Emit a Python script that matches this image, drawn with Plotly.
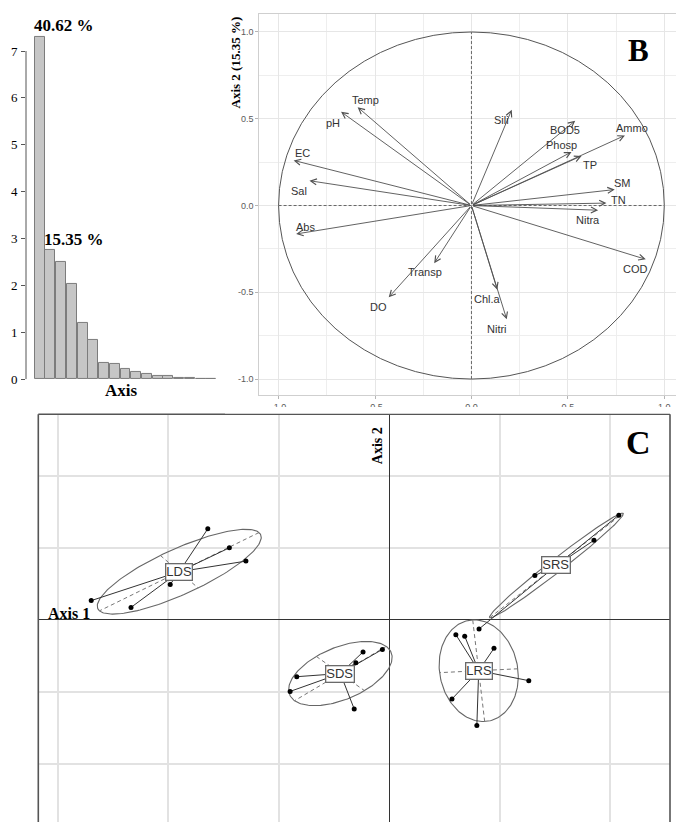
import numpy as np
import plotly.graph_objects as go

# ---------------- Panel A : eigenvalues (scree plot) ----------------
axis_index = list(range(1, 18))
eigenvalues = [7.31, 2.76, 2.51, 2.03, 1.21, 0.83, 0.34, 0.33, 0.225, 0.15,
               0.11, 0.078, 0.063, 0.03, 0.02, 0.015, 0.006]
inertia_labels = ["40.62 %", "15.35 %"]
scree_ticks = [0, 1, 2, 3, 4, 5, 6, 7]

# ---------------- Panel B : correlation circle ----------------
var_names = ["Temp", "pH", "EC", "Sal", "Abs", "Transp", "DO", "Chl.a", "Nitri",
             "Sili", "BOD5", "Phosp", "TP", "Ammo", "SM", "TN", "Nitra", "COD"]
var_axis1 = [-0.590, -0.676, -0.922, -0.840, -0.909, -0.193, -0.429, 0.134, 0.183,
             0.209, 0.538, 0.519, 0.571, 0.796, 0.743, 0.700, 0.657, 0.904]
var_axis2 = [0.567, 0.540, 0.260, 0.143, -0.164, -0.332, -0.529, -0.485, -0.656,
             0.552, 0.488, 0.309, 0.286, 0.404, 0.092, 0.014, -0.027, -0.310]
circle_ticks = [-1.0, -0.5, 0.0, 0.5, 1.0]
circle_ticktext = ["-1.0", "-0.5", "0.0", "0.5", "1.0"]

# ---------------- Panel C : site scores by group ----------------
group_names = ["LDS", "SDS", "LRS", "SRS"]
lds_axis1 = [-3.28, -2.89, -2.59, -3.96, -5.39, -4.67]
lds_axis2 = [2.54, 2.01, 1.64, 0.99, 0.54, 0.35]
sds_axis1 = [-1.67, -1.79, -0.63, -0.60, -0.47, -0.12]
sds_axis2 = [-1.58, -1.99, -2.48, -1.19, -0.89, -0.82]
lrs_axis1 = [1.21, 1.37, 1.90, 2.53, 1.14, 1.59]
lrs_axis2 = [-0.41, -0.45, -0.79, -1.69, -2.20, -2.94]
srs_axis1 = [4.16, 3.71, 2.64, 1.63, 3.20, 2.84]
srs_axis2 = [2.92, 2.22, 1.24, -0.25, 1.50, 1.48]

# ---------------- styling / layout helpers ----------------
# The page body has an 8px margin, so the figure is made 8px smaller and
# every layout position (given in window pixels) is shifted by 8px.
OFF = 8
W, H = 684 - OFF, 830 - OFF
SERIF = "Liberation Serif, Times New Roman, serif"
SANS = "Liberation Sans, Arial, sans-serif"

# label offsets (pixels) for the variable names in panel B
label_dx = [8, -8, 9, -10, 9, -9, -10, -10, -10, -10, -10, -10, 8, 7, 8, 12, -10, -10]
label_dy = [7, -11, 7, -10, 7, -9, -10, -9, -10, -10, -9, 7, -9, 7, 7, 3, -10, -10]


def fx(px):
    return (px - OFF) / W


def fy(py):
    return 1 - (py - OFF) / H


fig = go.Figure()

# ---- Panel A ----
fig.add_trace(go.Bar(
    x=axis_index, y=eigenvalues, width=0.93,
    marker=dict(color="#c6c6c6", line=dict(color="#7c7c7c", width=1)),
    xaxis="x", yaxis="y", hoverinfo="skip"))

# ---- Panel C ----
group_x = [lds_axis1, sds_axis1, lrs_axis1, srs_axis1]
group_y = [lds_axis2, sds_axis2, lrs_axis2, srs_axis2]

annotations = []
centers = []
for gx, gy in zip(group_x, group_y):
    x = np.asarray(gx, float)
    y = np.asarray(gy, float)
    cx, cy = x.mean(), y.mean()
    centers.append((cx, cy))
    cov = np.cov(np.vstack([x, y]), bias=True)
    vals, vecs = np.linalg.eigh(cov)
    a = 1.5 * np.sqrt(max(vals[1], 0))
    b = 1.5 * np.sqrt(max(vals[0], 0))
    v1 = vecs[:, 1]
    v2 = vecs[:, 0]
    t = np.linspace(0, 2 * np.pi, 181)
    ex = cx + a * np.cos(t) * v1[0] + b * np.sin(t) * v2[0]
    ey = cy + a * np.cos(t) * v1[1] + b * np.sin(t) * v2[1]
    fig.add_trace(go.Scatter(x=ex, y=ey, mode="lines",
                             line=dict(color="#666666", width=1.1),
                             xaxis="x3", yaxis="y3", hoverinfo="skip"))
    axx = [cx - a * v1[0], cx + a * v1[0], None, cx - b * v2[0], cx + b * v2[0]]
    axy = [cy - a * v1[1], cy + a * v1[1], None, cy - b * v2[1], cy + b * v2[1]]
    fig.add_trace(go.Scatter(x=axx, y=axy, mode="lines",
                             line=dict(color="#777777", width=1, dash="4px,3px"),
                             xaxis="x3", yaxis="y3", hoverinfo="skip"))
    sx, sy = [], []
    for xi, yi in zip(x, y):
        sx += [cx, xi, None]
        sy += [cy, yi, None]
    fig.add_trace(go.Scatter(x=sx, y=sy, mode="lines",
                             line=dict(color="#333333", width=1),
                             xaxis="x3", yaxis="y3", hoverinfo="skip"))
    fig.add_trace(go.Scatter(x=x, y=y, mode="markers",
                             marker=dict(color="black", size=5),
                             xaxis="x3", yaxis="y3", hoverinfo="skip"))

for name, (cx, cy) in zip(group_names, centers):
    annotations.append(dict(
        x=cx, y=cy, xref="x3", yref="y3", text=name, showarrow=False,
        font=dict(family=SANS, size=13, color="#333333"),
        bgcolor="white", bordercolor="#6a6a6a", borderwidth=1.3, borderpad=0,
        xanchor="center", yanchor="middle"))

# ---- Panel B : arrows and labels ----
for name, vx, vy, dx, dy in zip(var_names, var_axis1, var_axis2, label_dx, label_dy):
    annotations.append(dict(
        x=vx, y=vy, xref="x2", yref="y2", ax=0, ay=0, axref="x2", ayref="y2",
        text="", showarrow=True, arrowhead=5, arrowsize=1.3, arrowwidth=0.9,
        arrowcolor="#505050", standoff=0, startstandoff=0))
    annotations.append(dict(
        x=vx, y=vy, xref="x2", yref="y2", text=name, showarrow=False,
        xshift=dx, yshift=dy, xanchor="center", yanchor="middle",
        font=dict(family=SANS, size=11, color="#333333")))

# ---- Panel A labels ----
for i, lab in enumerate(inertia_labels):
    annotations.append(dict(
        x=axis_index[i] - 0.465, y=eigenvalues[i], xref="x", yref="y",
        text=f"<b>{lab}</b>", showarrow=False, xanchor="left", yanchor="bottom",
        xshift=-3, yshift=-1,
        font=dict(family=SERIF, size=17, color="black")))

annotations += [
    dict(x=fx(121), y=fy(394), xref="paper", yref="paper", text="<b>Axis</b>",
         showarrow=False, font=dict(family=SERIF, size=17, color="black"),
         xanchor="center", yanchor="middle"),
    dict(x=fx(235), y=fy(63), xref="paper", yref="paper",
         text="<b>Axis 2 (15.35 %)</b>", textangle=-90, showarrow=False,
         font=dict(family=SERIF, size=13, color="black"),
         xanchor="center", yanchor="middle"),
    dict(x=fx(638), y=fy(51), xref="paper", yref="paper", text="<b>B</b>",
         showarrow=False, font=dict(family=SERIF, size=31, color="black"),
         xanchor="center", yanchor="middle"),
    dict(x=fx(678), y=fy(413), xref="paper", yref="paper", text="<b>)</b>",
         showarrow=False, font=dict(family=SERIF, size=14, color="black"),
         xanchor="center", yanchor="middle"),
    dict(x=fx(69), y=fy(619), xref="paper", yref="paper", text="<b>Axis 1</b>",
         showarrow=False, font=dict(family=SERIF, size=16, color="black"),
         xanchor="center", yanchor="middle"),
    dict(x=fx(377.5), y=fy(450), xref="paper", yref="paper", text="<b>Axis 2</b>",
         textangle=-90, showarrow=False,
         font=dict(family=SERIF, size=14, color="black"),
         xanchor="center", yanchor="middle"),
    dict(x=fx(638), y=fy(447), xref="paper", yref="paper", text="<b>C</b>",
         showarrow=False, font=dict(family=SERIF, size=34, color="black"),
         xanchor="center", yanchor="middle"),
]

shapes = [
    # Panel A axis line (0..7)
    dict(type="line", xref="x domain", yref="y", x0=0, x1=0, y0=0, y1=7,
         line=dict(color="#555555", width=1)),
    # Panel B circle and dashed axes
    dict(type="circle", xref="x2", yref="y2", x0=-1, x1=1, y0=-1, y1=1,
         line=dict(color="#555555", width=1), layer="between"),
    dict(type="line", xref="x2", yref="y2", x0=0, x1=0, y0=-1, y1=1,
         line=dict(color="#666666", width=1, dash="3px,2px"), layer="between"),
    dict(type="line", xref="x2", yref="y2", x0=-1, x1=1, y0=0, y1=0,
         line=dict(color="#666666", width=1, dash="3px,2px"), layer="between"),
    # Panel C frame (left, top, right)
    dict(type="line", xref="x3 domain", yref="y3 domain", x0=0, x1=0, y0=0, y1=1,
         line=dict(color="#555555", width=1.6)),
    dict(type="line", xref="x3 domain", yref="y3 domain", x0=0, x1=1, y0=1, y1=1,
         line=dict(color="#555555", width=1.6)),
    dict(type="line", xref="x3 domain", yref="y3 domain", x0=1, x1=1, y0=0, y1=1,
         line=dict(color="#555555", width=1.6)),
    # white strip hiding the lower part of panel B's x tick labels
    dict(type="rect", xref="paper", yref="paper", x0=fx(225), x1=fx(672),
         y0=fy(417.5), y1=fy(411), fillcolor="white", line=dict(width=0),
         layer="above"),
]

fig.update_layout(
    width=W, height=H, margin=dict(l=0, r=0, t=0, b=0),
    paper_bgcolor="white", plot_bgcolor="white", showlegend=False,
    bargap=0,
    xaxis=dict(domain=[fx(26), fx(222)], range=[-0.28, 18.0], anchor="y",
               showticklabels=False, ticks="", showgrid=False, zeroline=False,
               showline=False, fixedrange=True),
    yaxis=dict(domain=[fy(383), fy(14)], range=[0, 7.79], anchor="x",
               tickvals=scree_ticks, ticks="outside", ticklen=4, tickwidth=1,
               tickcolor="#555555", showgrid=False, zeroline=False, showline=False,
               tickfont=dict(family=SERIF, size=13, color="black"), ticklabelstandoff=1),
    xaxis2=dict(domain=[fx(259.3), fx(683)], range=[-1.1, 1.097], anchor="y2",
                tickvals=circle_ticks, ticktext=circle_ticktext, ticks="outside",
                ticklen=3, tickcolor="#b5b5b5",
                tickfont=dict(family=SANS, size=9, color="#5a5a5a"),
                showgrid=True, gridcolor="#e6e6e6", gridwidth=1,
                minor=dict(dtick=0.25, tick0=0, showgrid=True, gridcolor="#eeeeee",
                           gridwidth=1),
                zeroline=False, showline=True, linecolor="#cfcfcf", linewidth=1,
                mirror=True),
    yaxis2=dict(domain=[fy(399), fy(14)], range=[-1.093, 1.104], anchor="x2",
                tickvals=circle_ticks, ticktext=circle_ticktext, ticks="outside",
                ticklen=3, tickcolor="#b5b5b5",
                tickfont=dict(family=SANS, size=9, color="#5a5a5a"),
                showgrid=True, gridcolor="#e6e6e6", gridwidth=1,
                minor=dict(dtick=0.25, tick0=0, showgrid=True, gridcolor="#eeeeee",
                           gridwidth=1),
                zeroline=False, showline=True, linecolor="#cfcfcf", linewidth=1,
                mirror=True),
    xaxis3=dict(domain=[fx(38.3), fx(670)], range=[-6.348, 5.086], anchor="y3",
                dtick=2, tick0=0, showticklabels=False, ticks="",
                showgrid=True, gridcolor="#e2e2e2", gridwidth=1.5,
                zeroline=True, zerolinecolor="#333333", zerolinewidth=1.2,
                showline=False),
    yaxis3=dict(domain=[0, fy(418.3)], range=[-5.628, 5.73], anchor="x3",
                dtick=2, tick0=0, showticklabels=False, ticks="",
                showgrid=True, gridcolor="#e2e2e2", gridwidth=1.5,
                zeroline=True, zerolinecolor="#333333", zerolinewidth=1.2,
                showline=False),
    annotations=annotations,
    shapes=shapes,
)

fig.write_html("out.html")
